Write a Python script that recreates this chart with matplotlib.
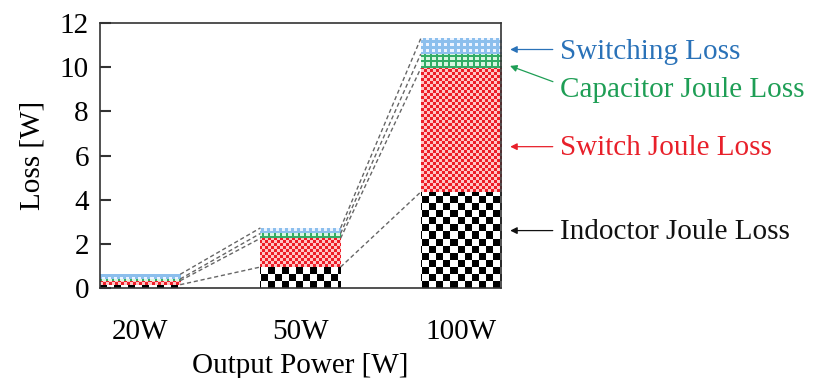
import numpy as np
import matplotlib.pyplot as plt

plt.rcParams.update({
    "font.family": "Liberation Serif",
    "font.size": 20,
})

categories = ["20W", "50W", "100W"]
series_names = ["Indoctor Joule Loss", "Switch Joule Loss",
                "Capacitor Joule Loss", "Switching Loss"]
inductor = [0.15, 0.95, 4.35]
switch = [0.18, 1.30, 5.60]
capacitor = [0.08, 0.22, 0.65]
switching = [0.21, 0.25, 0.70]
values = [inductor, switch, capacitor, switching]

label_colors = ["#111111", "#e8202a", "#1e9e55", "#2a72b8"]
label_y = [2.54, 6.34, 8.97, 10.69]
arrow_tip_y = [2.6, 6.4, 10.1, 10.8]
arrow_tail_y = [2.6, 6.4, 9.3, 10.8]

W, H = 401, 265  # axes size in pixels
UP = 4  # texture oversampling


def texture(kind):
    yy, xx = np.indices((H * UP, W * UP)) / UP
    yy = yy.astype(int)
    xx = xx.astype(int)
    img = np.ones(xx.shape + (3,))
    if kind == 0:  # black checker
        on = ((xx // 7) + (yy // 7)) % 2 == 0
        img[on] = (0, 0, 0)
    elif kind == 1:  # fine red checker
        on = ((xx // 3) + (yy // 3)) % 2 == 0
        img[on] = (0.93, 0.12, 0.16)
        img[~on] = (1.0, 0.78, 0.78)
    elif kind == 2:  # green grid
        on = (xx % 6 < 2) | (yy % 5 < 2)
        img[on] = (0.2, 0.68, 0.4)
        img[~on] = (0.85, 0.97, 0.88)
    else:  # blue dots
        img[:] = (0.55, 0.75, 0.93)
        on = (((xx % 6) - 3) ** 2 + ((yy % 6) - 3) ** 2) <= 2
        img[on] = (0.93, 0.96, 1.0)
    return img


fig = plt.figure(figsize=(8.14, 3.78), dpi=100)
ax = fig.add_axes([100 / 814, 90 / 378, W / 814, H / 378])

x = np.arange(len(categories))
width = 0.5
xlim = (-0.25, 2.25)
ylim = (0, 12)

bottom = np.zeros(len(categories))
tops = []
for k, vals in enumerate(values):
    bars = ax.bar(x, vals, width, bottom=bottom, facecolor="none",
                  edgecolor="none", zorder=2)
    img = texture(k)
    for b in bars:
        im = ax.imshow(img, extent=(xlim[0], xlim[1], ylim[0], ylim[1]),
                       origin="lower", interpolation="nearest",
                       aspect="auto", zorder=1)
        im.set_clip_path(b)
    bottom = bottom + np.array(vals)
    tops.append(bottom.copy())

# dashed connectors between bars
for t in tops:
    for i in range(len(categories) - 1):
        ax.plot([x[i] + width / 2, x[i + 1] - width / 2], [t[i], t[i + 1]],
                ls=(0, (3, 2)), lw=1.0, color="#666666", zorder=3)

ax.set_xlim(*xlim)
ax.set_ylim(*ylim)
ax.set_xticks(x)
ax.set_xticklabels(categories)
ax.set_yticks(np.arange(0, 13, 2))
ax.tick_params(axis="x", length=0, pad=22, labelsize=21)
ax.tick_params(axis="y", direction="in", length=8, width=1.5,
               color="#333333", labelsize=21, pad=8)
for s in ax.spines.values():
    s.set_color("#333333")
    s.set_linewidth(1.2)
ax.set_xlabel("Output Power [W]", fontsize=21, labelpad=6)
ax.set_ylabel("Loss [W]", fontsize=21, labelpad=10)

for name, c, ty, tip, tail in zip(series_names, label_colors, label_y,
                                  arrow_tip_y, arrow_tail_y):
    ax.annotate("", xy=(2.29, tip), xytext=(2.59, tail),
                annotation_clip=False,
                arrowprops=dict(arrowstyle="-|>", color=c, lw=0.9,
                                mutation_scale=10))
    ax.text(2.62, ty, name, color=c, fontsize=21, va="center", ha="left",
            clip_on=False)

fig.savefig("out.png", dpi=100)
